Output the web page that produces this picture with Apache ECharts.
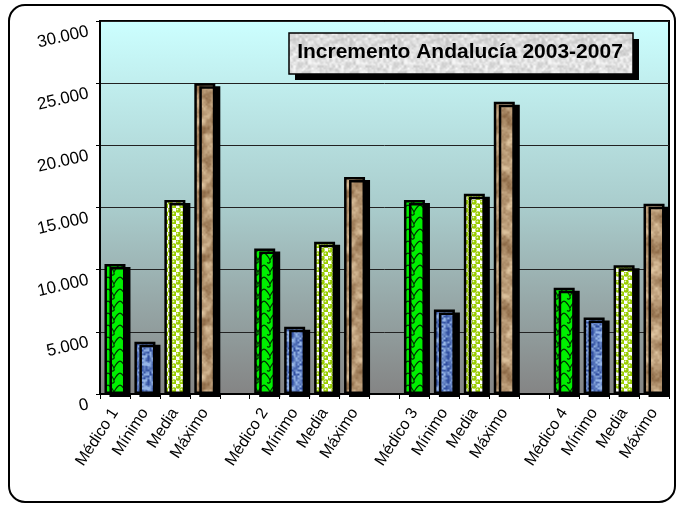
<!DOCTYPE html>
<html>
<head>
<meta charset="utf-8">
<script src="https://cdn.jsdelivr.net/npm/echarts@6/dist/echarts.min.js"></script>
<style>
  html, body { margin: 0; padding: 0; background: #fff; }
  #chart { width: 677px; height: 506px; }
</style>
</head>
<body>
<div id="chart"></div>
<script>
let groups = ['Médico 1', 'Médico 2', 'Médico 3', 'Médico 4'];
let roles = ['Mínimo', 'Media', 'Máximo'];
let medicoData = [10450, 11700, 15600, 8550];
let minimoData = [4200, 5400, 6800, 6150];
let mediaData = [15600, 12250, 16100, 10350];
let maximoData = [25000, 17450, 23500, 15300];
let yTicks = [0, 5000, 10000, 15000, 20000, 25000, 30000];
let titleText = 'Incremento Andalucía 2003-2007';

// little deterministic noise for the textures
function hash(x, y, s) {
    let h = Math.sin(x * 12.9898 + y * 78.233 + s * 37.719) * 43758.5453;
    return h - Math.floor(h);
}
function smooth(x, y, cell, s, w, h) {
    let gx = Math.floor(x / cell), gy = Math.floor(y / cell);
    let fx = x / cell - gx, fy = y / cell - gy;
    let nx = w / cell, ny = h / cell;
    let a = hash(gx % nx, gy % ny, s), b = hash((gx + 1) % nx, gy % ny, s);
    let c = hash(gx % nx, (gy + 1) % ny, s), d = hash((gx + 1) % nx, (gy + 1) % ny, s);
    fx = fx * fx * (3 - 2 * fx); fy = fy * fy * (3 - 2 * fy);
    return (a * (1 - fx) + b * fx) * (1 - fy) + (c * (1 - fx) + d * fx) * fy;
}
function noiseCanvas(w, h, base, dark, seed, cells, amount) {
    let cv = document.createElement('canvas');
    cv.width = w; cv.height = h;
    let ctx = cv.getContext('2d');
    let img = ctx.createImageData(w, h);
    for (let y = 0; y < h; y++) {
        for (let x = 0; x < w; x++) {
            let n = 0, tot = 0;
            cells.forEach(function (c, i) { n += smooth(x, y, c, seed + i, w, h) / (i + 1); tot += 1 / (i + 1); });
            n = n / tot;
            let t = Math.max(0, Math.min(1, (n - 0.5) * amount + 0.5));
            let k = (y * w + x) * 4;
            for (let j = 0; j < 3; j++) img.data[k + j] = base[j] * (1 - t) + dark[j] * t;
            img.data[k + 3] = 255;
        }
    }
    ctx.putImageData(img, 0, 0);
    return cv;
}

function greenPattern() {
    let cv = document.createElement('canvas');
    cv.width = 12; cv.height = 12;
    let ctx = cv.getContext('2d');
    ctx.fillStyle = '#00f000';
    ctx.fillRect(0, 0, 12, 12);
    ctx.strokeStyle = '#003000';
    ctx.lineWidth = 1.2;
    ctx.beginPath();
    ctx.moveTo(0, 1);
    ctx.quadraticCurveTo(3, 2, 6, 8);
    ctx.quadraticCurveTo(9, 2, 12, 1);
    ctx.moveTo(6, 8);
    ctx.arc(4.5, 9.5, 1.6, -0.5, 2.5);
    ctx.stroke();
    return cv;
}
function dotPattern() {
    let cv = document.createElement('canvas');
    cv.width = 8; cv.height = 8;
    let ctx = cv.getContext('2d');
    ctx.fillStyle = '#ffffff';
    ctx.fillRect(0, 0, 8, 8);
    ctx.fillStyle = '#99cc00';
    [[2, 2], [6, 6]].forEach(function (p) {
        ctx.beginPath(); ctx.arc(p[0], p[1], 2.7, 0, Math.PI * 2); ctx.fill();
    });
    ctx.fillStyle = '#e8f5c0';
    [[2, 2], [6, 6]].forEach(function (p) {
        ctx.beginPath(); ctx.arc(p[0] - 0.6, p[1] - 0.6, 0.9, 0, Math.PI * 2); ctx.fill();
    });
    return cv;
}

let patterns = [
    { image: greenPattern(), repeat: 'repeat' },
    { image: noiseCanvas(24, 24, [150, 182, 232], [50, 80, 160], 3, [2, 4], 1.8), repeat: 'repeat' },
    { image: dotPattern(), repeat: 'repeat' },
    { image: noiseCanvas(48, 64, [228, 202, 165], [140, 105, 70], 7, [8, 4, 2], 1.4), repeat: 'repeat' }
];
let titleTexture = { image: noiseCanvas(48, 48, [246, 246, 246], [200, 200, 200], 11, [3, 2], 1.4), repeat: 'repeat' };

// build the 19 categories: 4 bars per médico, an empty slot between groups
let categories = [];
let barData = [];
groups.forEach(function (g, i) {
    if (i > 0) { categories.push(''); barData.push(null); }
    let vals = [medicoData[i], minimoData[i], mediaData[i], maximoData[i]];
    [g].concat(roles).forEach(function (name, j) {
        categories.push(name);
        barData.push({ value: vals[j], itemStyle: { color: patterns[j] } });
    });
});

function fmt(v) {
    return String(v).replace(/\B(?=(\d{3})+(?!\d))/g, '.');
}

let myChart = echarts.init(document.getElementById('chart'));

let option = {
    animation: false,
    backgroundColor: '#ffffff',
    grid: {
        left: 100, top: 21, right: 8, bottom: 112,
        show: true,
        borderColor: '#000', borderWidth: 2,
        backgroundColor: {
            type: 'linear', x: 0, y: 0, x2: 0, y2: 1,
            colorStops: [{ offset: 0, color: '#ccffff' }, { offset: 0.5, color: '#a9cccc' }, { offset: 1, color: '#848484' }]
        }
    },
    xAxis: {
        type: 'category',
        data: categories,
        boundaryGap: true,
        axisLine: { lineStyle: { color: '#000', width: 2 } },
        axisTick: { show: true, interval: 0, length: 5, lineStyle: { color: '#000' } },
        axisLabel: {
            interval: 0, rotate: 57, margin: 16,
            fontFamily: 'Liberation Sans, Arial', fontSize: 16, color: '#000'
        }
    },
    yAxis: {
        type: 'value',
        min: yTicks[0], max: yTicks[yTicks.length - 1], interval: 5000,
        axisLine: { show: true, lineStyle: { color: '#000', width: 2 } },
        axisTick: { show: true, length: 4, lineStyle: { color: '#000' } },
        splitLine: { lineStyle: { color: '#222', width: 1 } },
        axisLabel: {
            rotate: 13, margin: 14, verticalAlign: 'top', padding: [2, 0, 0, 0],
            fontFamily: 'Liberation Sans, Arial', fontSize: 17, color: '#000',
            formatter: fmt
        }
    },
    series: [{
        type: 'bar',
        data: barData,
        barWidth: 21,
        itemStyle: {
            borderColor: '#000', borderWidth: 2.5,
            shadowColor: '#000', shadowBlur: 0, shadowOffsetX: 5, shadowOffsetY: 3
        }
    }],
    graphic: [
        {
            type: 'rect', z: -10, silent: true,
            shape: { x: 9, y: 5, width: 666, height: 497, r: 16 },
            style: { fill: null, stroke: '#000', lineWidth: 2 }
        },
        {
            type: 'rect', z: 100,
            shape: { x: 295, y: 39, width: 344, height: 41 },
            style: { fill: '#000' }
        },
        {
            type: 'rect', z: 101,
            shape: { x: 289, y: 33, width: 344, height: 41 },
            style: { fill: titleTexture, stroke: '#000', lineWidth: 1.5 }
        },
        {
            type: 'text', z: 102,
            x: 460, y: 52,
            style: {
                text: titleText, textAlign: 'center', textVerticalAlign: 'middle',
                font: 'bold 21px "Liberation Sans", Arial', fill: '#000'
            }
        }
    ]
};
myChart.setOption(option);
</script>
</body>
</html>
